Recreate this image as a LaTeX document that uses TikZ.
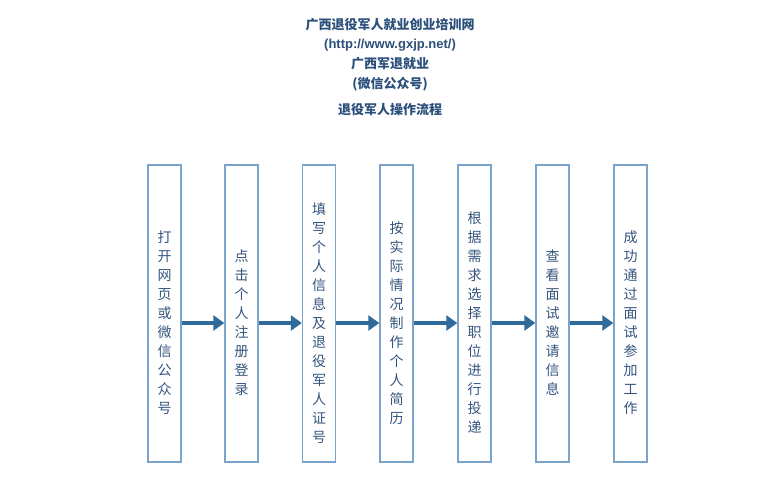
\documentclass[tikz,border=0pt]{standalone}
\usepackage{fontspec}
\newfontfamily\cjk{Noto Sans CJK SC}
\setmainfont{Liberation Sans}
\definecolor{ttl}{HTML}{2A4F7A}
\definecolor{bx}{HTML}{7BA4CC}
\definecolor{tx}{HTML}{34557D}
\definecolor{ar}{HTML}{2E6A9A}
\usetikzlibrary{arrows.meta}
\begin{document}
\begin{tikzpicture}[x=1pt,y=-1pt,
  stepbox/.style={draw=bx,line width=1.4pt,minimum width=33pt,minimum height=297pt,inner sep=0pt},
  steptext/.style={align=center,font=\cjk\fontsize{14}{19}\selectfont,text=tx},
  conn/.style={draw=ar,line width=3.8pt,-{Triangle[length=11pt,width=15pt]}},
  ttlt/.style={font=\cjk\bfseries\fontsize{13}{14}\selectfont,text=ttl}]
\useasboundingbox (0,0) rectangle (775,500);
\node[ttlt] (t1) at (390,25) {广西退役军人就业创业培训网};
\node[font=\bfseries\fontsize{13}{14}\selectfont,text=ttl] (t2) at (390,45) {(http://www.gxjp.net/)};
\node[ttlt] (t3) at (390,64) {广西军退就业};
\node[ttlt] (t4) at (390,84) {(微信公众号)};
\node[ttlt] (t5) at (390,110) {退役军人操作流程};
\foreach \n/\x/\t in {
  b1/164.5/{打\\开\\网\\页\\或\\微\\信\\公\\众\\号},
  b2/241.5/{点\\击\\个\\人\\注\\册\\登\\录},
  b3/319/{填\\写\\个\\人\\信\\息\\及\\退\\役\\军\\人\\证\\号},
  b4/396.5/{按\\实\\际\\情\\况\\制\\作\\个\\人\\简\\历},
  b5/474.5/{根\\据\\需\\求\\选\\择\\职\\位\\进\\行\\投\\递},
  b6/552.5/{查\\看\\面\\试\\邀\\请\\信\\息},
  b7/630.5/{成\\功\\通\\过\\面\\试\\参\\加\\工\\作}}{
  \node[stepbox] (\n) at (\x,313.5) {};
  \node[steptext] (\n t) at (\x,323) {\t};
}
\foreach \a/\b in {b1/b2,b2/b3,b3/b4,b4/b5,b5/b6,b6/b7}
  \draw[conn] ([yshift=-9.5pt]\a.east) -- ([yshift=-9.5pt]\b.west);
\end{tikzpicture}
\end{document}
